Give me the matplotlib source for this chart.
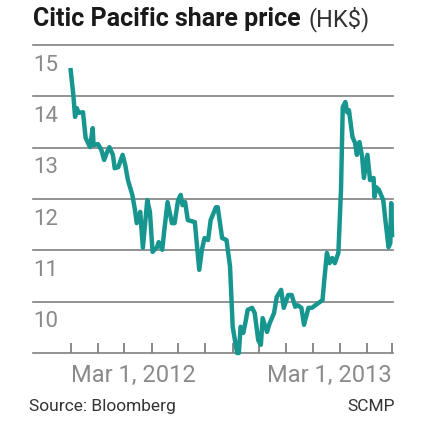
import numpy as np
import matplotlib
matplotlib.use("Agg")
import matplotlib.pyplot as plt
import matplotlib.dates as mdates
from matplotlib import font_manager

# Citic Pacific share price (HK$)
dates = np.array([
    "2012-03-01", "2012-03-04", "2012-03-06", "2012-03-08", "2012-03-10",
    "2012-03-15", "2012-03-18", "2012-03-23", "2012-03-26", "2012-03-27",
    "2012-04-01", "2012-04-05", "2012-04-08", "2012-04-11", "2012-04-14",
    "2012-04-18", "2012-04-20", "2012-04-24", "2012-04-29", "2012-05-02",
    "2012-05-05", "2012-05-10", "2012-05-13", "2012-05-15", "2012-05-19",
    "2012-05-22", "2012-05-27", "2012-05-30", "2012-06-02", "2012-06-07",
    "2012-06-09", "2012-06-13", "2012-06-15", "2012-06-19", "2012-06-24",
    "2012-06-27", "2012-07-01", "2012-07-04", "2012-07-06", "2012-07-09",
    "2012-07-12", "2012-07-20", "2012-07-25", "2012-07-28", "2012-07-31",
    "2012-08-04", "2012-08-07", "2012-08-13", "2012-08-15", "2012-08-20",
    "2012-08-25", "2012-08-29", "2012-09-01", "2012-09-06", "2012-09-08",
    "2012-09-10", "2012-09-13", "2012-09-16", "2012-09-18", "2012-09-23",
    "2012-09-26", "2012-09-30", "2012-10-03", "2012-10-05", "2012-10-10",
    "2012-10-13", "2012-10-18", "2012-10-21", "2012-10-26", "2012-10-29",
    "2012-11-03", "2012-11-07", "2012-11-11", "2012-11-14", "2012-11-18",
    "2012-11-21", "2012-11-26", "2012-11-30", "2012-12-07", "2012-12-12",
    "2012-12-14", "2012-12-17", "2012-12-20", "2012-12-23", "2012-12-26",
    "2012-12-30", "2013-01-02", "2013-01-04", "2013-01-07", "2013-01-09",
    "2013-01-11", "2013-01-15", "2013-01-18", "2013-01-20", "2013-01-23",
    "2013-01-26", "2013-01-28", "2013-02-01", "2013-02-04", "2013-02-08",
    "2013-02-09", "2013-02-11", "2013-02-14", "2013-02-19", "2013-02-21",
    "2013-02-25", "2013-02-27", "2013-02-28", "2013-03-01",
], dtype="datetime64[D]")

prices = [
    14.51, 14.03, 13.60, 13.77, 13.68,
    13.69, 13.19, 13.01, 13.38, 13.05,
    13.07, 12.95, 12.76, 12.90, 13.01,
    12.86, 12.60, 12.62, 12.86, 12.66,
    12.37, 12.08, 11.79, 11.53, 11.75,
    11.05, 11.98, 11.75, 10.97, 11.06,
    11.16, 11.01, 11.34, 11.94, 11.53,
    11.53, 11.98, 12.08, 11.88, 11.94,
    11.59, 11.55, 10.62, 11.01, 11.24,
    11.20, 11.59, 11.84, 11.84, 11.24,
    11.20, 10.68, 9.51, 9.00, 9.00,
    9.51, 9.39, 9.64, 9.84, 9.88,
    9.78, 9.25, 9.16, 9.68, 9.41,
    9.58, 9.78, 10.09, 10.23, 9.88,
    10.13, 10.13, 9.90, 9.93, 9.88,
    9.55, 9.88, 9.88, 9.97, 10.03,
    10.42, 10.95, 10.75, 10.85, 10.75,
    10.95, 12.18, 13.79, 13.89, 13.69,
    13.73, 13.21, 13.09, 12.86, 13.11,
    12.82, 12.41, 12.86, 12.37, 12.41,
    12.04, 12.23, 12.18, 11.98, 11.65,
    11.06, 11.14, 11.92, 11.30,
]

y_labels = [15, 14, 13, 12, 11, 10]
grid_levels = [15, 14, 13, 12, 11, 10, 9]
x_label_dates = ["Mar 1, 2012", "Mar 1, 2013"]

installed = {f.name for f in font_manager.fontManager.ttflist}
narrow = "Liberation Sans Narrow" if "Liberation Sans Narrow" in installed else "Roboto"

fig = plt.figure(figsize=(4.25, 4.25), dpi=100)
ax = fig.add_axes([0.0776, 0.1694, 0.847, 0.7247])

for lvl in grid_levels:
    ax.axhline(lvl, color="#808080", lw=1.2, clip_on=False, zorder=1)

x = mdates.date2num(dates.astype("datetime64[s]").astype(object))
ax.plot(x, prices, color="#17968f", lw=3.2, solid_joinstyle="round",
        clip_on=False, zorder=3)

start = mdates.date2num(np.datetime64("2012-03-01").astype(object))
end = mdates.date2num(np.datetime64("2013-03-01").astype(object))
ax.set_xlim(start - 42.8, end + 1)
ax.set_ylim(9, 15)

for s in ax.spines.values():
    s.set_visible(False)

months = mdates.date2num(
    np.arange("2012-03", "2013-04", dtype="datetime64[M]")
    .astype("datetime64[D]").astype(object))
ax.set_xticks(months)
labels = [""] * len(months)
labels[0], labels[-1] = x_label_dates
ax.set_xticklabels(labels)
ax.tick_params(axis="x", direction="in", length=7, width=1.3,
               color="#808080", labelcolor="#8a8a8a", labelsize=17, pad=8)
for t in ax.get_xticklabels():
    t.set_fontfamily(narrow)
tl = ax.get_xticklabels()
tl[0].set_horizontalalignment("left")
tl[-1].set_horizontalalignment("right")
ax.set_xticks([start, end], minor=True)
ax.tick_params(axis="x", which="minor", direction="out", length=5,
               width=1.3, color="#808080")

ax.set_yticks([])
for v in y_labels:
    ax.text(0.0, v - 0.39, str(v), transform=ax.get_yaxis_transform(),
            ha="left", va="center", fontsize=16, color="#8a8a8a",
            fontfamily=narrow)

title = fig.text(0.0776, 0.955, "Citic Pacific share price", fontsize=18,
                 fontweight="bold", fontfamily=narrow, color="#1a1a1a",
                 ha="left", va="center")
fig.canvas.draw()
bb = title.get_window_extent()
fig.text(bb.x1 / fig.bbox.width + 0.018, 0.955, "(HK$)", fontsize=17,
         fontfamily=narrow, color="#333333", ha="left", va="center")

fig.text(0.068, 0.043, "Source: Bloomberg", fontsize=12.5, fontfamily=narrow,
         color="#333333", ha="left", va="center")
fig.text(0.93, 0.043, "SCMP", fontsize=12.5, fontfamily=narrow,
         color="#333333", ha="right", va="center")

fig.savefig("out.png", dpi=100)
